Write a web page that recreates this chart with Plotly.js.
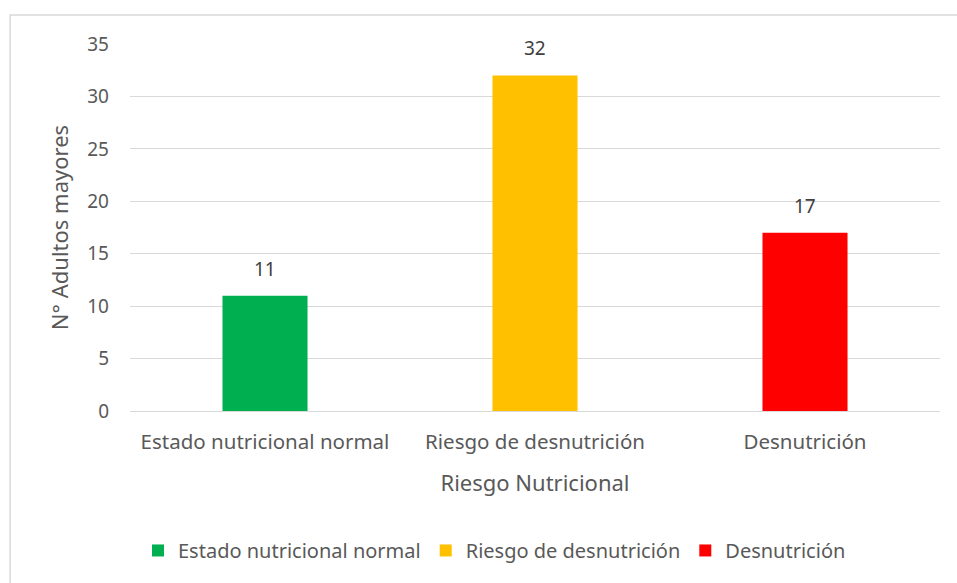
<!DOCTYPE html>
<html>
<head>
<meta charset="utf-8">
<script src="https://cdn.plot.ly/plotly-3.0.1.min.js"></script>
<style>html,body{margin:0;padding:0;background:#fff;}#chart{width:957px;height:583px;}</style>
</head>
<body>
<div id="chart"></div>
<script>
const categories = ["Estado nutricional normal", "Riesgo de desnutrición", "Desnutrición"];
const values = [11, 32, 17];
const colors = ["#00B050", "#FFC000", "#FF0000"];
const yTicks = [0, 5, 10, 15, 20, 25, 30, 35];

const font = "Noto Sans, Open Sans, sans-serif";
const grey = "#595959";

const traces = categories.map((c, i) => ({
  type: "bar",
  name: c,
  x: [c],
  y: [values[i]],
  width: 0.315,
  marker: {color: colors[i]},
  hoverinfo: "x+y"
}));

const annotations = categories.map((c, i) => ({
  x: c, y: values[i], xref: "x", yref: "y",
  text: String(values[i]), showarrow: false,
  yanchor: "bottom", yshift: 12,
  font: {family: font, size: 19, color: "#404040"}
}));

const layout = {
  width: 957, height: 583,
  margin: {l: 130, r: 17, t: 44, b: 172},
  paper_bgcolor: "#fff", plot_bgcolor: "#fff",
  barmode: "overlay",
  font: {family: font, size: 19, color: grey},
  xaxis: {
    categoryorder: "array", categoryarray: categories,
    showgrid: false, zeroline: false, showline: false,
    ticks: "", ticklabelstandoff: 16,
    tickfont: {family: font, size: 20.5, color: grey},
    title: {text: "Riesgo Nutricional", font: {family: font, size: 22, color: grey}, standoff: 22}
  },
  yaxis: {
    range: [0, 35], tickvals: yTicks, ticktext: yTicks.map(String),
    showgrid: true, gridcolor: "#D9D9D9", gridwidth: 1,
    zeroline: true, zerolinecolor: "#D9D9D9", zerolinewidth: 1,
    ticks: "", ticklabelstandoff: 20,
    tickfont: {family: font, size: 19, color: grey},
    title: {text: "N° Adultos mayores", font: {family: font, size: 22, color: grey}, standoff: 12}
  },
  annotations: annotations,
  showlegend: true,
  legend: {
    orientation: "h", x: 0.45, xanchor: "center", y: -0.38, yanchor: "middle",
    font: {family: font, size: 20, color: grey},
    itemwidth: 30, traceorder: "normal"
  },
  shapes: [{
    type: "rect", xref: "paper", yref: "paper",
    x0: -0.148, x1: 1.2, y0: -0.6, y1: 1.079,
    line: {color: "#D9D9D9", width: 1.5}, fillcolor: "rgba(0,0,0,0)", layer: "below"
  }]
};

Plotly.newPlot("chart", traces, layout, {displayModeBar: false, staticPlot: true});
</script>
</body>
</html>
